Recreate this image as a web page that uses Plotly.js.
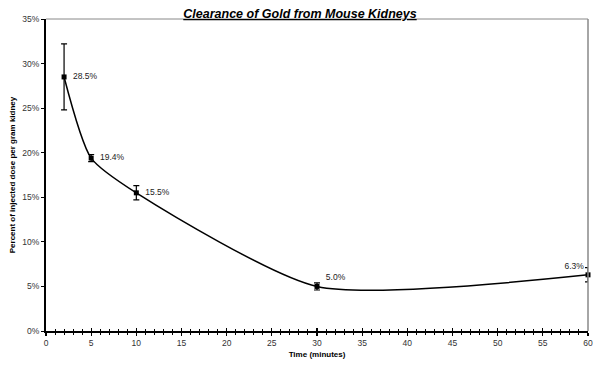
<!DOCTYPE html>
<html><head><meta charset="utf-8">
<script src="https://cdn.plot.ly/plotly-3.0.1.min.js"></script>
<style>html,body{margin:0;padding:0;background:#fff}#chart{width:600px;height:365px}</style>
</head><body><div id="chart"></div>
<script>
const timeMin = [2, 5, 10, 30, 60];
const percentDose = [28.5, 19.4, 15.5, 5.0, 6.3];
const errorPct = [3.7, 0.4, 0.8, 0.4, 0.8];
const pointLabels = ['  28.5%', '  19.4%', '  15.5%', '  5.0%', '6.3%'];
const labelPositions = ['middle right', 'middle right', 'middle right', 'top right', 'top left'];
const yTickVals = [0, 5, 10, 15, 20, 25, 30, 35];
const yTickText = yTickVals.map(v => v + '%');
const xTickVals = [0, 5, 10, 15, 20, 25, 30, 35, 40, 45, 50, 55, 60];

const trace = {
  x: timeMin, y: percentDose,
  mode: 'lines+markers+text',
  type: 'scatter',
  line: {shape: 'spline', smoothing: 0.65, color: '#000', width: 1.5},
  marker: {symbol: 'square', size: 5, color: '#000'},
  error_y: {type: 'data', array: errorPct, visible: true, color: '#000', thickness: 1.2, width: 3},
  text: pointLabels,
  textposition: labelPositions,
  textfont: {family: 'Liberation Sans, Arial, sans-serif', size: 8.5, color: '#222'},
  cliponaxis: false,
  hoverinfo: 'none'
};
const dummy = {x: [0, 60], y: [0, 0], xaxis: 'x2', mode: 'none', type: 'scatter', hoverinfo: 'none', showlegend: false};

const layout = {
  width: 600, height: 365,
  margin: {l: 46, r: 12, t: 19, b: 34},
  paper_bgcolor: '#fff', plot_bgcolor: '#fff',
  showlegend: false,
  font: {family: 'Liberation Sans, Arial, sans-serif', size: 8, color: '#333'},
  title: {
    text: '<b><i><u>Clearance of Gold from Mouse Kidneys</u></i></b>',
    font: {family: 'Liberation Sans, Arial, sans-serif', size: 12.5, color: '#000'},
    x: 0.5, xanchor: 'center', y: 1, yref: 'paper', yanchor: 'bottom', pad: {b: 1}
  },
  xaxis: {
    range: [0, 60], tickvals: xTickVals, ticks: 'outside', ticklen: 3, tickwidth: 1.2, tickcolor: '#000',
    showgrid: false, zeroline: false, showline: true, linecolor: '#000', linewidth: 2,
    minor: {dtick: 1, ticks: 'outside', ticklen: 2, tickcolor: '#000', tickwidth: 1},
    tickfont: {size: 8.5, color: '#333'},
    title: {text: '<b>Time (minutes)</b>', font: {size: 8, color: '#000'}, standoff: 4}
  },
  xaxis2: {
    overlaying: 'x', matches: 'x', range: [0, 60], side: 'bottom', anchor: 'y',
    tickvals: xTickVals, ticks: 'inside', ticklen: 3, tickwidth: 1.2, tickcolor: '#000',
    showticklabels: false, showgrid: false, zeroline: false, showline: false,
    minor: {dtick: 1, ticks: 'inside', ticklen: 2, tickcolor: '#000', tickwidth: 1}
  },
  yaxis: {
    range: [0, 35], tickvals: yTickVals, ticktext: yTickText, ticks: 'outside', ticklen: 3, tickcolor: '#000',
    showgrid: false, zeroline: false, showline: true, linecolor: '#000', linewidth: 2,
    tickfont: {size: 8.5, color: '#333'},
    title: {text: '<b>Percent of injected dose per gram kidney</b>', font: {size: 8, color: '#000'}, standoff: 5}
  },
  shapes: [
    {type: 'line', xref: 'paper', yref: 'paper', x0: 0, x1: 1, y0: 1, y1: 1, line: {color: '#888', width: 1}},
    {type: 'line', xref: 'paper', yref: 'paper', x0: 1, x1: 1, y0: 0, y1: 1, line: {color: '#888', width: 1.5}}
  ]
};
Plotly.newPlot('chart', [dummy, trace], layout, {staticPlot: true, displayModeBar: false});
</script></body></html>
